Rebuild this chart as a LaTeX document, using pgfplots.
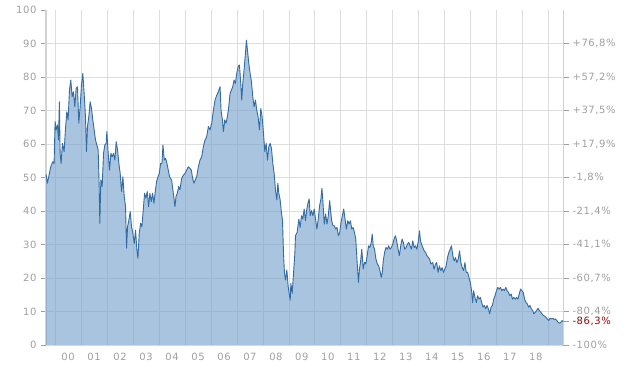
\documentclass[border=0pt]{standalone}
\usepackage{fontspec}
\setmainfont{DejaVu Sans}[LetterSpace=6]
\usepackage{pgfplots}
\usepackage{pgfplotstable}
\pgfplotsset{compat=1.18}
\definecolor{gridc}{HTML}{DEDEDE}
\definecolor{axc}{HTML}{D2D2D2}
\definecolor{labc}{HTML}{A0A0A0}
\definecolor{linec}{HTML}{336BA3}
\definecolor{fillc}{HTML}{719DCB}
\definecolor{redc}{HTML}{A00000}
\newcommand\lastlbl{-86,3\%}
\pgfplotstableread{
x y
-0.347 50.9
-0.296 48.3
-0.219 51.2
-0.167 53.2
-0.090 54.7
-0.039 54.2
0.000 66.7
0.039 64.2
0.090 65.7
0.129 61.2
0.167 72.6
0.193 57.2
0.231 54.2
0.283 60.2
0.347 57.7
0.398 64.2
0.450 69.6
0.501 67.2
0.553 76.1
0.604 79.1
0.656 74.1
0.707 75.6
0.758 71.1
0.810 76.6
0.861 77.1
0.913 66.2
0.964 71.1
1.015 77.6
1.067 81.1
1.118 75.1
1.170 68.2
1.208 57.7
1.247 65.2
1.298 68.2
1.350 72.6
1.401 70.6
1.452 67.2
1.504 64.2
1.555 61.2
1.607 59.7
1.658 58.2
1.697 47.3
1.722 36.3
1.761 49.3
1.812 47.3
1.864 57.2
1.915 59.7
1.967 60.2
1.992 63.7
2.044 57.2
2.095 52.2
2.147 57.2
2.198 56.2
2.249 57.2
2.301 55.2
2.352 60.7
2.404 58.2
2.455 54.2
2.506 51.2
2.558 45.8
2.609 50.2
2.661 44.3
2.712 41.3
2.751 28.9
2.789 35.3
2.841 37.3
2.892 39.8
2.943 35.3
2.995 33.3
3.046 30.3
3.098 34.3
3.149 28.3
3.188 25.9
3.239 33.3
3.290 36.3
3.342 35.3
3.393 40.3
3.445 45.3
3.496 43.8
3.548 45.8
3.599 41.3
3.650 45.3
3.702 42.8
3.753 45.3
3.805 42.3
3.856 45.8
3.907 48.8
3.959 50.2
4.010 51.2
4.062 54.2
4.113 54.2
4.152 59.7
4.203 55.2
4.254 55.7
4.306 54.2
4.357 52.2
4.409 50.2
4.486 49.2
4.550 45.3
4.614 41.3
4.653 44.3
4.704 45.3
4.756 47.3
4.807 46.3
4.871 49.7
4.936 50.7
5.000 51.2
5.064 52.2
5.129 53.2
5.193 52.7
5.244 52.2
5.296 49.7
5.347 48.3
5.398 49.3
5.450 50.2
5.514 53.2
5.578 55.2
5.643 56.2
5.707 59.2
5.771 61.2
5.835 62.2
5.900 65.2
5.964 64.2
6.028 66.2
6.093 70.1
6.157 73.1
6.221 74.6
6.285 75.6
6.350 77.1
6.388 70.1
6.440 67.2
6.478 63.7
6.530 67.2
6.581 66.2
6.632 68.1
6.684 71.1
6.735 75.1
6.787 76.1
6.838 77.1
6.889 79.1
6.941 78.1
6.992 81.1
7.044 83.1
7.095 83.6
7.147 78.1
7.185 73.1
7.224 78.1
7.275 82.1
7.326 87.1
7.365 91.0
7.404 88.1
7.455 84.1
7.506 81.1
7.558 78.6
7.609 74.1
7.661 71.1
7.712 73.1
7.763 70.1
7.815 68.1
7.866 64.2
7.918 70.6
7.969 68.1
8.021 63.2
8.072 57.7
8.123 60.2
8.175 55.2
8.226 59.2
8.278 60.2
8.329 58.7
8.380 54.2
8.432 51.2
8.483 46.3
8.535 43.3
8.573 48.3
8.612 45.3
8.663 43.3
8.715 39.3
8.753 37.3
8.792 27.3
8.830 21.4
8.869 19.4
8.920 22.4
8.972 17.4
9.050 13.4
9.075 18.4
9.126 15.4
9.177 21.4
9.229 27.3
9.252 32.6
9.316 33.6
9.381 37.6
9.432 35.1
9.484 38.6
9.535 37.6
9.587 40.6
9.639 37.1
9.690 40.6
9.742 42.6
9.781 43.6
9.819 38.6
9.871 40.1
9.923 38.6
9.974 40.6
10.026 37.6
10.077 34.6
10.129 37.6
10.181 41.6
10.232 43.6
10.271 46.8
10.310 42.6
10.361 36.1
10.413 39.1
10.465 36.1
10.516 38.6
10.568 43.1
10.606 40.1
10.645 37.1
10.697 35.6
10.748 35.6
10.800 34.6
10.852 35.1
10.903 32.6
10.955 33.6
11.006 36.6
11.058 38.6
11.110 40.6
11.161 37.6
11.213 34.6
11.265 37.1
11.316 36.1
11.368 37.1
11.419 34.6
11.471 35.1
11.523 33.6
11.574 31.6
11.626 24.7
11.677 18.7
11.716 22.7
11.755 24.7
11.806 28.6
11.858 22.7
11.910 24.7
11.961 24.2
12.013 26.7
12.065 29.6
12.116 29.1
12.168 30.6
12.206 33.1
12.245 29.6
12.297 28.6
12.348 25.7
12.400 24.2
12.452 23.7
12.503 22.2
12.555 20.2
12.594 21.7
12.632 25.2
12.684 27.7
12.735 29.1
12.787 28.6
12.839 29.6
12.890 28.6
12.942 29.1
12.994 30.1
13.045 31.6
13.097 32.6
13.148 31.1
13.200 28.6
13.252 26.7
13.303 29.6
13.355 31.6
13.406 30.6
13.458 28.6
13.510 29.1
13.561 30.1
13.613 30.6
13.665 29.6
13.716 28.6
13.768 31.1
13.819 29.1
13.871 29.6
13.923 28.6
13.974 30.6
14.026 34.1
14.065 31.1
14.103 30.1
14.155 29.1
14.206 28.1
14.258 27.7
14.310 26.7
14.361 26.2
14.413 25.7
14.465 24.2
14.535 24.6
14.587 22.6
14.639 24.1
14.690 24.6
14.742 21.7
14.794 23.6
14.845 22.2
14.897 23.1
14.948 21.7
15.000 22.6
15.052 23.6
15.103 26.1
15.155 27.6
15.206 28.6
15.258 29.6
15.310 26.6
15.361 25.1
15.413 26.1
15.465 24.6
15.516 25.6
15.568 28.1
15.619 24.6
15.671 23.1
15.723 22.2
15.774 24.6
15.826 21.7
15.877 21.7
15.929 20.2
15.981 18.7
16.032 16.2
16.071 12.7
16.110 16.2
16.161 14.2
16.213 12.7
16.265 14.7
16.316 13.7
16.368 14.2
16.419 12.7
16.471 11.3
16.523 11.8
16.574 10.8
16.626 11.8
16.677 10.8
16.729 9.3
16.781 11.3
16.832 11.8
16.884 13.7
16.935 14.7
16.987 16.2
17.039 17.2
17.090 16.7
17.142 17.2
17.194 16.2
17.245 16.7
17.297 16.2
17.348 17.2
17.400 16.2
17.452 15.7
17.503 14.7
17.555 15.2
17.606 13.7
17.658 14.2
17.710 13.7
17.761 14.2
17.813 13.7
17.865 15.2
17.916 16.7
17.968 16.2
18.019 15.7
18.071 13.7
18.123 12.7
18.174 12.3
18.226 11.3
18.277 11.8
18.329 10.8
18.381 10.3
18.432 9.3
18.484 9.8
18.535 10.3
18.587 11.0
18.639 10.3
18.690 9.8
18.742 9.3
18.794 8.8
18.845 8.6
18.897 8.2
18.948 7.8
19.000 7.3
19.052 8.0
19.103 7.8
19.155 8.0
19.206 7.6
19.258 7.8
19.310 7.3
19.361 6.8
19.413 6.5
19.465 6.8
19.516 7.3
19.550 7.0
}\pricedata
\begin{document}
\begin{tikzpicture}
\useasboundingbox (0,0) rectangle (635pt,370pt);
\fill[white] (0,0) rectangle (635pt,370pt);
\begin{axis}[
  at={(46pt,25pt)}, anchor=south west,
  scale only axis, width=517pt, height=335pt,
  xmin=-0.35, xmax=19.55, ymin=0, ymax=100,
  axis x line*=bottom, axis y line*=left,
  x axis line style={draw=gridc, line width=0.8pt, -},
  y axis line style={draw=axc, line width=2pt, -},
  xtick={0.5,1.5,...,18.5},
  xticklabels={00,01,02,03,04,05,06,07,08,09,10,11,12,13,14,15,16,17,18},
  major x tick style={draw=none},
  minor xtick={0,1,...,19},
  xminorgrids=true,
  ytick={0,10,...,100},
  yticklabels={0,10,20,30,40,50,60,70,80,90,100},
  minor ytick={10,20,...,90},
  yminorgrids=true,
  minor grid style={draw=gridc, line width=0.8pt},
  minor tick length=0pt,
  major tick length=5pt,
  tick align=outside,
  major y tick style={draw=labc, line width=0.6pt},
  ticklabel style={font=\fontsize{10}{12}\selectfont, text=labc},
  yticklabel style={xshift=-1pt},
  clip=false,
]
\addplot[draw=none, fill=fillc, fill opacity=0.6] table[x=x,y=y] {\pricedata} \closedcycle;
\addplot[color=linec, line width=0.9pt, line join=round] table[x=x,y=y] {\pricedata};
\end{axis}
\begin{axis}[
  at={(46pt,25pt)}, anchor=south west,
  scale only axis, width=517pt, height=335pt,
  xmin=-0.35, xmax=19.55, ymin=0, ymax=100,
  axis x line=none, axis y line*=right,
  y axis line style={draw=axc, line width=0.8pt, -},
  ytick={0,10,...,90},
  yticklabels={{-100\%},{-80,4\%},{-60,7\%},{-41,1\%},{-21,4\%},{-1,8\%},{+17,9\%},{+37,5\%},{+57,2\%},{+76,8\%}},
  extra y ticks={6.97},
  extra y tick labels={\lastlbl},
  extra y tick style={yticklabel style={text=redc}},
  major tick length=6pt,
  tick align=outside,
  major y tick style={draw=labc, line width=0.6pt},
  ticklabel style={font=\fontsize{10}{12}\selectfont, text=labc},
]
\end{axis}
\end{tikzpicture}
\end{document}
